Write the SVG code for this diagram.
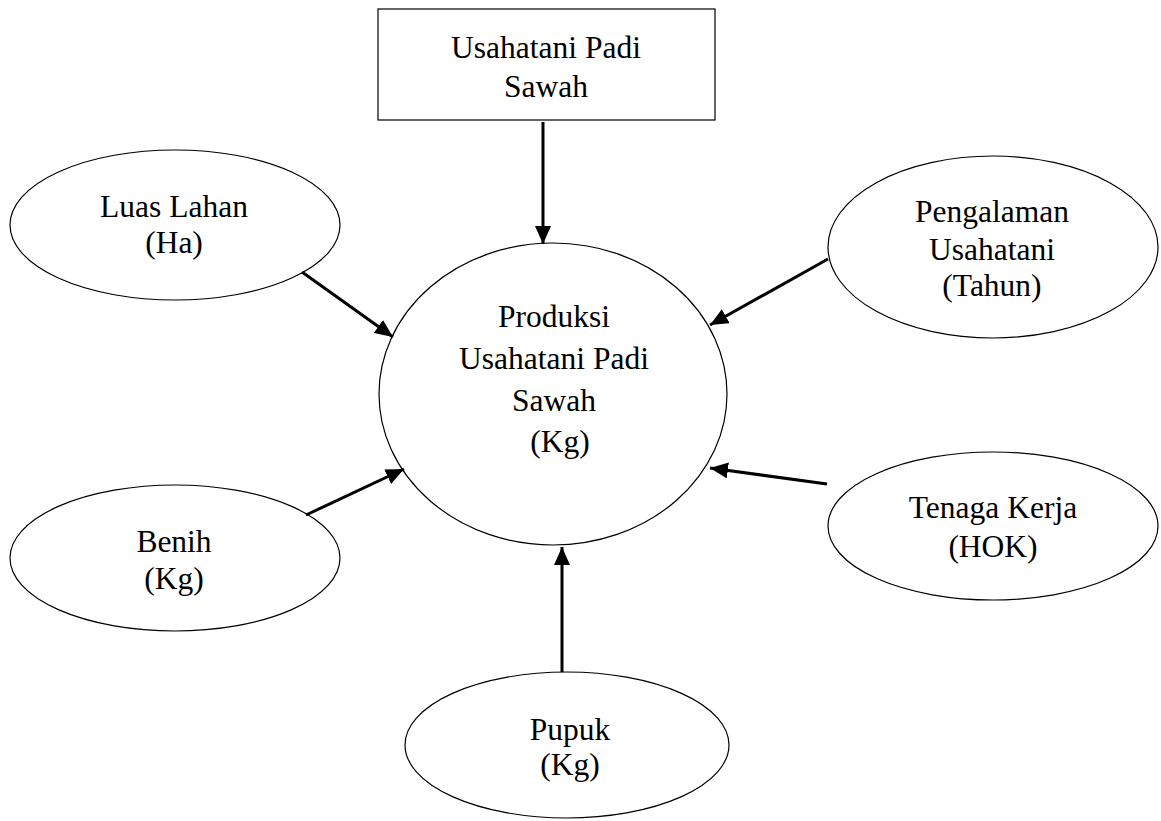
<svg xmlns="http://www.w3.org/2000/svg" width="1161" height="821" viewBox="0 0 1161 821">
<style>
.shape{fill:#fff;stroke:#000;stroke-width:1.2}
.t{font-family:'Liberation Serif','Times New Roman',Times,'DejaVu Serif',serif;font-size:31.5px;fill:#000;text-anchor:middle}
.c{stroke:#000;stroke-width:3;fill:none;marker-end:url(#ah)}
</style>
<defs>
<marker id="ah" markerUnits="userSpaceOnUse" markerWidth="18" markerHeight="16" refX="18" refY="8" orient="auto">
<path d="M0,0 L18,8 L0,16 z" fill="#000"/>
</marker>
</defs>
<rect width="1161" height="821" fill="#fff"/>
<g font-family="Liberation Serif, Times New Roman, Times, DejaVu Serif, serif">
<g id="box-usahatani">
<rect class="shape" x="378" y="9" width="337" height="111"/>
<text class="t" x="546" y="58">Usahatani Padi</text>
<text class="t" x="546" y="97">Sawah</text>
</g>
<g id="produksi">
<ellipse class="shape" cx="553" cy="394" rx="174" ry="151"/>
<text class="t" x="554" y="327">Produksi</text>
<text class="t" x="554" y="369">Usahatani Padi</text>
<text class="t" x="554" y="411">Sawah</text>
<text class="t" x="560" y="452">(Kg)</text>
</g>
<g id="luas-lahan">
<ellipse class="shape" cx="175" cy="225" rx="165" ry="75"/>
<text class="t" x="174" y="217">Luas Lahan</text>
<text class="t" x="174" y="253">(Ha)</text>
</g>
<g id="pengalaman">
<ellipse class="shape" cx="993" cy="247" rx="165" ry="91"/>
<text class="t" x="992" y="222">Pengalaman</text>
<text class="t" x="992" y="260">Usahatani</text>
<text class="t" x="992" y="296">(Tahun)</text>
</g>
<g id="benih">
<ellipse class="shape" cx="175" cy="558" rx="165" ry="73"/>
<text class="t" x="174" y="552">Benih</text>
<text class="t" x="174" y="589">(Kg)</text>
</g>
<g id="tenaga-kerja">
<ellipse class="shape" cx="993" cy="526" rx="165" ry="74"/>
<text class="t" x="993" y="518">Tenaga Kerja</text>
<text class="t" x="993" y="557">(HOK)</text>
</g>
<g id="pupuk">
<ellipse class="shape" cx="567" cy="745" rx="162" ry="73"/>
<text class="t" x="570" y="740">Pupuk</text>
<text class="t" x="570" y="775">(Kg)</text>
</g>
</g>
<g id="connectors">
<line class="c" x1="543" y1="122" x2="543" y2="244"/>
<line class="c" x1="302" y1="272" x2="393" y2="337"/>
<line class="c" x1="828" y1="259" x2="710" y2="325"/>
<line class="c" x1="306" y1="515" x2="404" y2="469"/>
<line class="c" x1="827" y1="484" x2="710" y2="468"/>
<line class="c" x1="562" y1="672" x2="562" y2="547"/>
</g>
</svg>
